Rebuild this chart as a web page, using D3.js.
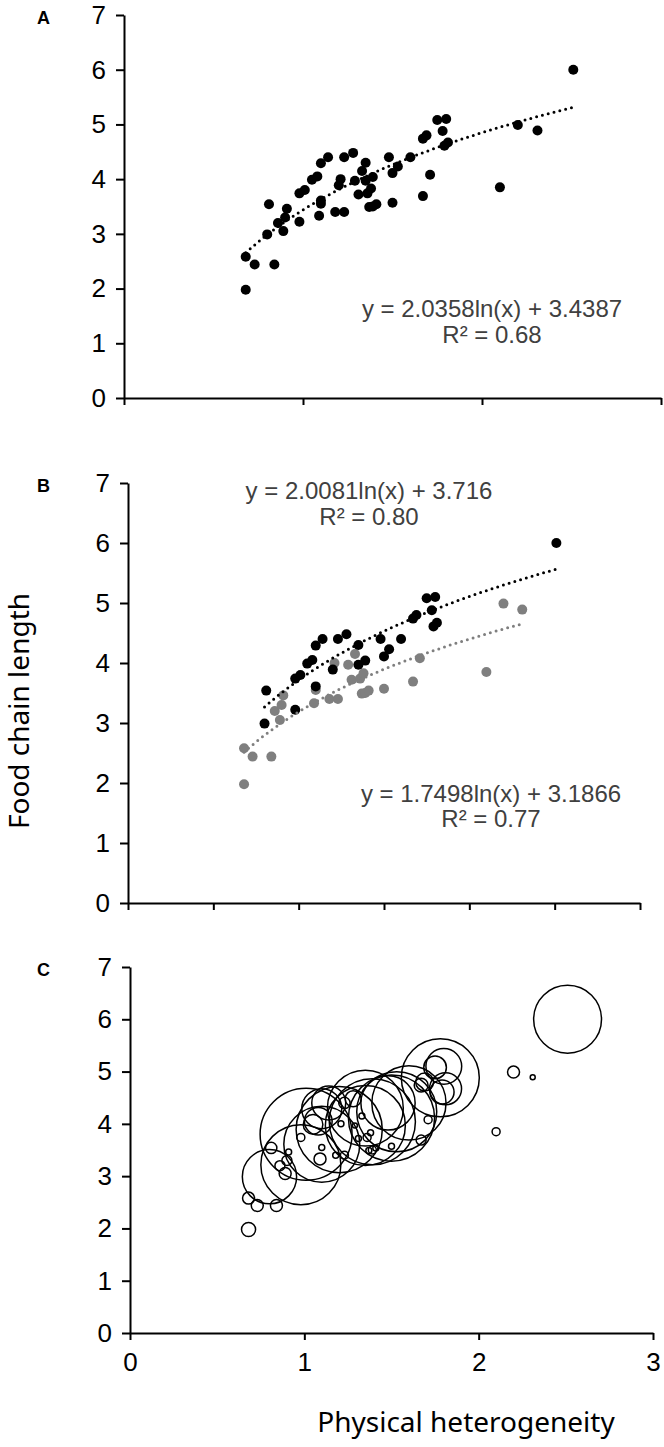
<!DOCTYPE html>
<html>
<head>
<meta charset="utf-8">
<script src="https://cdn.jsdelivr.net/npm/d3@7"></script>
<style>
  body { margin: 0; background: #fff; }
  .tick text { font-family: "Liberation Sans", Arial, sans-serif; }
</style>
</head>
<body>
<div id="chart"></div>
<script>
// sites with the higher food chain (black in B, big bubbles in C)
var blackX = [0.80, 0.81, 0.98, 0.98, 1.01, 1.05, 1.08, 1.10, 1.10, 1.14, 1.20, 1.23, 1.28, 1.35,
              1.35, 1.39, 1.48, 1.50, 1.53, 1.60, 1.67, 1.69, 1.75, 1.80, 1.78, 1.79, 1.81, 2.51];
var blackY = [2.99, 3.54, 3.22, 3.74, 3.80, 3.99, 4.05, 3.61, 4.29, 4.40, 3.89, 4.40, 4.48, 4.30,
              3.97, 4.04, 4.40, 4.11, 4.23, 4.40, 4.74, 4.80, 5.08, 5.10, 4.88, 4.61, 4.67, 6.00];
var blackSize = [46, 2, 100, 1, 132, 6, 12, 90, 25, 18, 116, 2, 4, 90,
                 100, 116, 46, 116, 100, 86, 3, 5, 8, 20, 95, 9, 16, 72];

// the other sites (grey in B, small bubbles in C)
var grayX = [0.68, 0.68, 0.73, 0.84, 0.89, 0.86, 0.90, 0.91, 1.09, 1.10, 1.18, 1.23, 1.21, 1.29,
             1.33, 1.31, 1.36, 1.38, 1.37, 1.39, 1.41, 1.50, 1.67, 1.71, 2.10, 2.20, 2.31];
var grayY = [1.98, 2.58, 2.44, 2.44, 3.05, 3.20, 3.30, 3.46, 3.33, 3.55, 3.40, 3.40, 4.00, 3.97,
             4.15, 3.72, 3.74, 3.83, 3.49, 3.50, 3.54, 3.57, 3.69, 4.08, 3.85, 4.99, 4.89];
var graySize = [3.1, 2.25, 2.25, 2.25, 2.25, 1.56, 1.56, 0.56, 2.25, 0.56, 0.56, 1, 0.56, 0.39,
                0.56, 0.56, 1, 0.56, 0.56, 1, 0.56, 0.56, 1.56, 1, 1, 2.25, 0.39];

// log fits: y = a ln(x) + b
var fitAll = [2.0358, 3.4387];
var fitBlack = [2.0081, 3.716];
var fitGray = [1.7498, 3.1866];

var eqAll = ["y = 2.0358ln(x) + 3.4387", "R\u00B2 = 0.68"];
var eqBlack = ["y = 2.0081ln(x) + 3.716", "R\u00B2 = 0.80"];
var eqGray = ["y = 1.7498ln(x) + 3.1866", "R\u00B2 = 0.77"];

var yTicks = [0, 1, 2, 3, 4, 5, 6, 7];
var yTickLabels = ["0", "1", "2", "3", "4", "5", "6", "7"];
var xTicks = [0, 1, 2, 3];
var xTicksB = [0, 0.5, 1, 1.5, 2, 2.5, 3];
var xTickLabels = ["0", "1", "2", "3"];

var allX = blackX.concat(grayX);
var allY = blackY.concat(grayY);

var svg = d3.select("#chart")
    .append("svg")
    .attr("width", 664)
    .attr("height", 1447);

function makePanel(label, box, xt, showXLabels)
{
    var x = d3.scaleLinear().domain([0, 3]).range([box.left, box.right]);
    var y = d3.scaleLinear().domain([0, 7]).range([box.bottom, box.top]);

    var yAxis = d3.axisLeft(y)
        .tickValues(yTicks)
        .tickFormat(function(d, i) { return yTickLabels[i]; })
        .tickSize(8).tickSizeOuter(0).tickPadding(10);
    var xAxis = d3.axisBottom(x).tickValues(xt).tickSize(7).tickSizeOuter(0).tickPadding(13);
    if(showXLabels)
        xAxis.tickFormat(function(d, i) { return xTickLabels[i]; });
    else
        xAxis.tickFormat("");

    var gy = svg.append("g")
        .attr("transform", "translate(" + box.left + ",0)")
        .call(yAxis);
    var gx = svg.append("g")
        .attr("transform", "translate(0," + box.bottom + ")")
        .call(xAxis);

    [gy, gx].forEach(function(g) {
        g.selectAll("path, line").attr("stroke", "#000").attr("stroke-width", 2);
        g.selectAll("text").attr("fill", "#000").style("font-size", "26px");
    });

    svg.append("text")
        .attr("x", 37)
        .attr("y", box.top + 9)
        .style("font-family", "'Liberation Sans', Arial, sans-serif")
        .style("font-weight", "bold")
        .style("font-size", "18px")
        .text(label);

    return { x: x, y: y };
}

function dots(p, xs, ys, color)
{
    svg.append("g").selectAll("circle")
        .data(xs)
        .enter().append("circle")
        .attr("cx", function(d) { return p.x(d); })
        .attr("cy", function(d, i) { return p.y(ys[i]); })
        .attr("r", 5)
        .attr("fill", color);
}

function trend(p, fit, xs, color)
{
    var ext = d3.extent(xs);
    var pts = d3.range(0, 61).map(function(i) {
        var xv = ext[0] + (ext[1] - ext[0]) * i / 60;
        return [xv, fit[0] * Math.log(xv) + fit[1]];
    });
    svg.append("path")
        .datum(pts)
        .attr("fill", "none")
        .attr("stroke", color)
        .attr("stroke-width", 3)
        .attr("stroke-linecap", "round")
        .attr("stroke-dasharray", "0,6")
        .attr("d", d3.line().x(function(d) { return p.x(d[0]); }).y(function(d) { return p.y(d[1]); }));
}

function equation(lines, cx, base1, base2)
{
    [base1, base2].forEach(function(b, i) {
        svg.append("text")
            .attr("x", cx)
            .attr("y", b)
            .attr("text-anchor", "middle")
            .attr("fill", "#404040")
            .style("font-family", "'Liberation Sans', Arial, sans-serif")
            .style("font-size", "24px")
            .text(lines[i]);
    });
}

// A: all sites
var pA = makePanel("A", { left: 124, right: 661, top: 15, bottom: 398 }, xTicks, false);
dots(pA, allX, allY, "#000");
trend(pA, fitAll, allX, "#000");
equation(eqAll, 492, 317, 343);

// B: split into two groups
var pB = makePanel("B", { left: 128, right: 640, top: 483, bottom: 903 }, xTicksB, false);
dots(pB, grayX, grayY, "#7f7f7f");
dots(pB, blackX, blackY, "#000");
trend(pB, fitBlack, blackX, "#000");
trend(pB, fitGray, grayX, "#7f7f7f");
equation(eqBlack, 369, 499, 525);
equation(eqGray, 491, 802, 827);

// C: bubbles
var pC = makePanel("C", { left: 130, right: 653, top: 967, bottom: 1333 }, xTicks, true);
var r = d3.scaleSqrt().domain([0, 100]).range([0, 40]);
var bubX = blackX.concat(grayX), bubY = blackY.concat(grayY), bubS = blackSize.concat(graySize);
svg.append("g").selectAll("circle")
    .data(bubX)
    .enter().append("circle")
    .attr("cx", function(d) { return pC.x(d); })
    .attr("cy", function(d, i) { return pC.y(bubY[i]); })
    .attr("r", function(d, i) { return r(bubS[i]); })
    .attr("fill", "none")
    .attr("stroke", "#000")
    .attr("stroke-width", 1.5);

// axis titles
svg.append("text")
    .attr("transform", "translate(29,711) rotate(-90)")
    .attr("text-anchor", "middle")
    .style("font-family", "'Noto Sans', sans-serif")
    .style("font-size", "28px")
    .text("Food chain length");

svg.append("text")
    .attr("x", 466)
    .attr("y", 1432)
    .attr("text-anchor", "middle")
    .style("font-family", "'Noto Sans', sans-serif")
    .style("font-size", "28px")
    .text("Physical heterogeneity");
</script>
</body>
</html>
